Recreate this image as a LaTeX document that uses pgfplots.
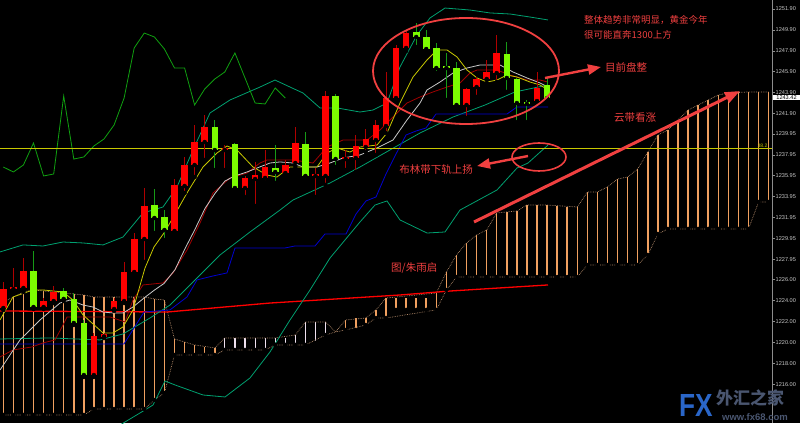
\documentclass[border=0pt]{standalone}
\usepackage{fontspec}
\setmainfont{Liberation Sans}
\newfontfamily\cjk{Noto Sans CJK SC}
\usepackage{pgfplots}
\usepackage{pgfplotstable}
\pgfplotsset{compat=1.18}
\usetikzlibrary{arrows.meta}
\definecolor{candlered}{HTML}{FF0000}
\definecolor{wickred}{HTML}{B00000}
\definecolor{candlegreen}{HTML}{7CFC00}
\definecolor{wickgreen}{HTML}{169A16}
\definecolor{ma5}{HTML}{C8C800}
\definecolor{ma10}{HTML}{C8C8C8}
\definecolor{tenkan}{HTML}{A00000}
\definecolor{kijun}{HTML}{0000D0}
\definecolor{chikou}{HTML}{10A010}
\definecolor{bb}{HTML}{00A070}
\definecolor{sandy}{HTML}{F0A060}
\definecolor{thistle}{HTML}{EEE0EE}
\definecolor{clouddot}{HTML}{B08868}
\definecolor{annot}{HTML}{F04040}
\definecolor{axgray}{HTML}{8C8C8C}
\definecolor{labelgray}{HTML}{C8C8C8}
\definecolor{fxblue}{HTML}{2A66C8}
\definecolor{fxgray}{HTML}{4A5670}

\pgfplotsset{
  ebar/.style n args={2}{forget plot, only marks, mark=none,
    error bars/.cd, y dir=plus, y explicit, error mark=none,
    error bar style={draw=#1, line width=#2, line cap=butt}},
}

% red (rising) candles: x open high low close
\pgfplotstableread{
x o h l c
3.3 1223.28 1225.77 1223.09 1225.10
13.4 1225.10 1227.11 1224.91 1225.30
23.4 1225.20 1228.07 1224.82 1226.83
43.6 1223.38 1224.24 1223.19 1223.95
53.7 1223.95 1225.39 1223.76 1224.82
93.9 1216.87 1220.89 1216.68 1220.60
104.0 1220.55 1220.89 1220.41 1220.75
114.1 1223.19 1224.24 1223.00 1223.95
124.1 1223.95 1227.69 1223.76 1226.73
134.2 1226.73 1230.46 1226.44 1229.89
144.3 1229.89 1234.77 1227.69 1233.05
174.5 1230.65 1235.63 1230.46 1235.06
184.6 1234.96 1237.74 1234.29 1236.97
194.6 1236.97 1240.80 1235.82 1239.17
204.7 1239.17 1241.75 1237.45 1240.61
224.8 1238.40 1238.88 1236.49 1238.60
245.0 1234.77 1235.92 1233.91 1235.73
255.1 1235.63 1237.26 1233.05 1236.01
265.1 1235.73 1238.40 1235.34 1236.78
285.3 1236.20 1237.45 1235.92 1236.97
295.3 1237.16 1240.61 1236.78 1239.07
315.5 1235.92 1236.68 1233.91 1236.11
325.5 1235.92 1244.05 1235.06 1243.57
345.7 1237.54 1238.40 1236.49 1237.74
355.8 1237.64 1239.84 1236.30 1238.79
365.8 1238.69 1240.41 1238.21 1239.46
375.9 1239.36 1241.28 1237.93 1240.80
386.0 1240.70 1245.87 1240.03 1243.38
396.0 1243.38 1248.45 1243.00 1248.17
406.1 1248.17 1249.89 1247.88 1249.60
466.5 1242.71 1244.34 1241.47 1244.24
476.6 1244.43 1245.39 1243.48 1245.20
486.7 1245.20 1247.02 1244.82 1245.87
496.7 1245.77 1249.41 1244.91 1247.69
537.0 1243.09 1245.87 1243.00 1244.34
}\upcandles

% green (falling) candles: x open high low close
\pgfplotstableread{
x o h l c
33.5 1226.83 1228.74 1223.19 1223.38
63.7 1224.91 1225.20 1223.95 1224.15
73.8 1224.15 1224.72 1221.66 1221.85
83.9 1221.85 1222.14 1216.68 1216.87
154.4 1233.14 1234.67 1230.46 1231.90
164.4 1231.99 1232.66 1229.79 1230.75
214.8 1240.61 1241.28 1236.49 1238.40
234.9 1238.98 1239.07 1234.58 1234.77
275.2 1236.68 1238.88 1235.25 1236.30
305.4 1238.98 1240.13 1235.82 1235.92
335.6 1243.57 1243.76 1236.78 1237.54
416.2 1249.70 1250.56 1248.26 1249.22
426.2 1249.22 1249.89 1247.69 1248.07
436.3 1248.17 1248.64 1245.77 1246.25
446.4 1246.45 1247.69 1243.19 1246.25
456.5 1246.25 1246.83 1242.52 1242.71
506.8 1247.59 1248.74 1243.96 1245.30
516.9 1245.20 1245.30 1241.08 1242.90
526.9 1243.00 1243.19 1241.08 1242.81
547.1 1244.63 1245.30 1243.00 1243.38
}\downcandles

% Ichimoku cloud, bars drawn sandy brown: x bottom top
\pgfplotstableread{
x b t
3.3 1213.05 1223.86
13.4 1213.05 1224.34
23.4 1213.05 1224.82
33.5 1213.05 1225.01
43.6 1213.05 1224.91
53.7 1213.05 1224.82
63.7 1213.05 1224.72
73.8 1213.05 1224.63
83.9 1213.05 1224.53
93.9 1213.62 1224.34
104.0 1213.62 1224.34
114.1 1213.62 1224.34
124.1 1213.62 1224.34
134.2 1213.62 1224.34
144.3 1213.62 1224.34
154.4 1214.48 1224.15
164.4 1215.15 1224.05
174.5 1218.79 1220.32
184.6 1218.79 1220.03
194.6 1218.79 1219.75
204.7 1218.79 1219.55
214.8 1218.79 1219.46
345.7 1221.18 1222.14
355.8 1221.18 1222.33
365.8 1221.66 1222.33
375.9 1222.33 1223.10
386.0 1222.33 1224.24
396.0 1223.10 1224.24
406.1 1223.10 1224.24
416.2 1223.10 1224.24
426.2 1223.10 1224.24
436.3 1223.10 1224.72
446.4 1225.01 1226.73
456.5 1226.25 1228.36
466.5 1226.25 1229.51
476.6 1226.25 1230.27
486.7 1226.25 1230.75
496.7 1226.25 1232.38
506.8 1226.25 1232.47
516.9 1226.25 1232.57
526.9 1226.25 1233.14
537.0 1226.25 1233.14
547.1 1226.25 1233.14
557.2 1226.25 1233.05
567.2 1226.25 1232.95
577.3 1226.25 1232.95
587.4 1227.40 1234.39
597.4 1227.40 1234.39
607.5 1227.40 1234.87
617.6 1227.40 1235.63
627.6 1227.40 1235.82
637.7 1227.40 1236.59
647.8 1228.36 1238.21
657.9 1230.37 1239.84
667.9 1230.85 1240.32
678.0 1230.85 1241.28
688.1 1230.85 1242.23
698.1 1230.85 1242.71
708.2 1230.85 1243.19
718.3 1230.85 1243.67
728.3 1230.85 1243.86
738.4 1230.85 1243.96
748.5 1230.85 1243.96
758.6 1233.43 1243.96
768.6 1233.43 1243.96
}\cloudsandy

% cloud bars drawn light (thistle)
\pgfplotstableread{
x b t
224.8 1219.27 1220.42
234.9 1219.27 1220.42
245.0 1219.27 1220.42
255.1 1219.27 1220.42
265.1 1219.27 1220.42
275.2 1219.75 1220.42
285.3 1219.75 1220.42
295.3 1219.75 1220.70
305.4 1219.75 1221.95
315.5 1219.94 1221.95
325.5 1220.70 1221.95
}\cloudlight

% cloud edges (dotted)
\pgfplotstableread{
x b t
3.3 1213.05 1223.86
13.4 1213.05 1224.34
23.4 1213.05 1224.82
33.5 1213.05 1225.01
43.6 1213.05 1224.91
83.9 1213.05 1224.53
93.9 1213.62 1224.34
144.3 1213.62 1224.34
154.4 1214.48 1224.15
164.4 1215.15 1224.05
174.5 1218.79 1220.32
194.6 1218.79 1219.75
214.8 1218.79 1219.46
224.8 1219.27 1220.42
265.1 1219.27 1220.42
275.2 1219.75 1220.42
295.3 1219.75 1220.70
305.4 1219.75 1221.95
325.5 1220.70 1221.95
335.6 1221.00 1221.00
345.7 1221.18 1222.14
365.8 1221.66 1222.33
375.9 1222.33 1223.10
386.0 1222.33 1224.24
436.3 1223.10 1224.72
446.4 1225.01 1226.73
456.5 1226.25 1228.36
466.5 1226.25 1229.51
476.6 1226.25 1230.27
486.7 1226.25 1230.75
496.7 1226.25 1232.38
516.9 1226.25 1232.57
526.9 1226.25 1233.14
547.1 1226.25 1233.14
577.3 1226.25 1232.95
587.4 1227.40 1234.39
597.4 1227.40 1234.39
607.5 1227.40 1234.87
617.6 1227.40 1235.63
627.6 1227.40 1235.82
637.7 1227.40 1236.59
647.8 1228.36 1238.21
657.9 1230.37 1239.84
667.9 1230.85 1240.32
678.0 1230.85 1241.28
688.1 1230.85 1242.23
698.1 1230.85 1242.71
708.2 1230.85 1243.19
718.3 1230.85 1243.67
728.3 1230.85 1243.86
748.5 1230.85 1243.96
758.6 1233.43 1243.96
768.6 1233.43 1243.96
}\cloudedge

\begin{document}
\begin{tikzpicture}[x=1pt,y=1pt]
\fill[black] (0,0) rectangle (800,423);
\begin{axis}[
  at={(0,0)}, anchor=south west,
  scale only axis, width=772pt, height=423pt,
  xmin=0, xmax=772, ymin=1212.28, ymax=1252.76,
  axis x line=none, axis y line*=right,
  axis line style={draw=axgray, line width=0.7pt},
  tick align=outside, major tick length=2.5pt,
  ytick style={draw=axgray, line width=0.5pt},
  ytick={1216,1218,1220,1222,1224,1226,1227.95,1229.95,1231.95,1233.95,1235.95,1237.95,1239.95,1241.9,1243.9,1245.9,1247.9,1249.9,1251.9},
  yticklabels={1216.00,1218.00,1220.00,1222.00,1224.00,1226.00,1227.95,1229.95,1231.95,1233.95,1235.95,1237.95,1239.95,1241.90,1243.90,1245.90,1247.90,1249.90,1251.90},
  yticklabel style={font=\fontsize{5.6}{6}\selectfont, text=labelgray, inner sep=1pt},
  clip=true,
]
% cloud
\addplot[ebar={sandy}{1.5pt}] table[x=x, y=b, y error plus expr=\thisrow{t}-\thisrow{b}] {\cloudsandy};
\addplot[ebar={thistle}{1.2pt}] table[x=x, y=b, y error plus expr=\thisrow{t}-\thisrow{b}] {\cloudlight};
\addplot[forget plot, clouddot, densely dotted, line width=0.7pt] table[x=x, y=t] {\cloudedge};
\addplot[forget plot, clouddot, densely dotted, line width=0.7pt] table[x=x, y=b] {\cloudedge};

% long red moving average
\addplot[forget plot, candlered, line width=1.3pt] coordinates {(0,1223.00) (167,1222.90) (270,1223.76) (400,1224.53) (450,1224.91) (548,1225.49)};

% Bollinger bands
\addplot[forget plot, bb, line width=0.8pt] coordinates {(0,1228.65) (23,1229.32) (43,1229.22) (63,1229.60) (83,1229.51) (103,1229.32) (123,1230.08) (143,1232.38) (163,1232.95) (177,1234.87) (193,1238.41) (210,1241.95) (230,1243.19) (260,1244.43) (275,1245.10) (290,1244.43) (303,1243.86) (320,1242.43) (337,1242.43) (360,1242.04) (373,1242.23) (387,1242.90) (400,1246.35) (417,1249.41) (430,1251.04) (445,1251.99) (470,1251.80) (490,1251.52) (510,1251.42) (530,1251.13) (548,1250.85)};
\addplot[forget plot, bb, line width=0.8pt] coordinates {(0,1220.32) (50,1220.42) (100,1220.23) (123,1220.80) (150,1222.33) (170,1223.57) (200,1226.44) (220,1228.36) (250,1230.56) (280,1232.66) (293,1233.62) (330,1235.25) (360,1236.78) (390,1238.41) (420,1240.03) (453,1241.56) (485,1242.71) (515,1243.96) (548,1244.63)};
\addplot[forget plot, bb, line width=0.8pt] coordinates {(120,1212.09) (140,1213.24) (153,1214.00) (165,1216.30) (175,1215.92) (203,1214.96) (225,1214.77) (250,1216.59) (270,1219.08) (290,1222.14) (310,1225.01) (330,1228.07) (360,1231.52) (375,1233.14) (387,1233.53) (400,1231.71) (427,1230.46) (445,1230.56) (460,1232.66) (497,1234.58) (517,1236.68) (528,1237.16) (548,1238.88)};

% Chikou span
\addplot[forget plot, chikou, line width=0.8pt] coordinates {(3.3,1236.78) (13.4,1236.30) (23.4,1236.97) (33.5,1239.07) (43.6,1235.92) (53.7,1236.11) (63.7,1243.57) (73.8,1237.54) (83.9,1237.74) (93.9,1238.79) (104.0,1239.46) (114.1,1240.80) (124.1,1243.38) (134.2,1248.17) (144.3,1249.60) (154.4,1249.22) (164.4,1248.07) (174.5,1246.25) (184.6,1246.25) (194.6,1242.71) (204.7,1244.24) (214.8,1245.20) (224.8,1245.87) (234.9,1247.69) (245.0,1245.30) (255.1,1242.90) (265.1,1242.81) (275.2,1244.34) (285.3,1243.38)};

% Kijun-sen
\addplot[forget plot, kijun, line width=0.8pt] coordinates {(0,1219.84) (124,1219.84) (134,1221.37) (144,1222.90) (170,1223.10) (187,1224.34) (197,1225.97) (213,1226.35) (227,1226.64) (235,1229.03) (285,1229.03) (295,1229.22) (315,1229.22) (325,1230.37) (346,1230.37) (356,1232.28) (366,1233.53) (376,1233.91) (386,1236.11) (396,1238.02) (406,1239.84) (416,1240.22) (426,1240.51) (436,1241.85) (507,1241.85) (517,1242.52) (548,1242.52)};

% Tenkan-sen
\addplot[forget plot, tenkan, line width=0.8pt] coordinates {(0,1218.60) (13,1219.27) (32,1219.56) (43,1219.94) (55,1220.23) (62,1221.47) (67,1222.43) (83,1222.43) (110,1222.43) (125,1221.95) (133,1224.05) (143,1225.49) (163,1225.68) (173,1226.64) (187,1228.84) (200,1231.42) (213,1234.29) (230,1235.73) (247,1236.20) (260,1237.16) (267,1237.45) (293,1237.45) (313,1237.16) (327,1238.69) (343,1239.36) (367,1239.36) (380,1240.32) (393,1241.56) (407,1242.90) (420,1243.48) (433,1243.96) (447,1244.43) (460,1244.82) (470,1245.77) (477,1246.06) (497,1246.06) (510,1245.58) (527,1245.10) (540,1245.10) (548,1244.91)};

% 10 MA
\addplot[forget plot, ma10, line width=0.8pt] coordinates {(0,1217.35) (20,1220.23) (40,1222.14) (60,1223.76) (70,1224.05) (83,1223.57) (93,1223.38) (103,1222.90) (113,1222.81) (123,1222.81) (133,1223.38) (144,1224.24) (154,1224.97) (164,1225.63) (175,1226.95) (185,1228.96) (195,1230.82) (205,1232.81) (215,1234.25) (225,1235.44) (235,1235.93) (247,1236.30) (257,1236.68) (270,1237.16) (280,1237.26) (293,1237.16) (303,1236.78) (317,1236.78) (330,1237.16) (343,1237.64) (360,1237.93) (377,1238.60) (393,1239.36) (407,1241.28) (420,1242.90) (427,1244.15) (440,1244.91) (453,1245.77) (467,1246.25) (480,1246.54) (500,1246.54) (513,1245.87) (527,1245.30) (540,1244.82) (548,1244.43)};

% 5 MA
\addplot[forget plot, ma5, line width=0.8pt] coordinates {(0,1222.14) (13,1224.34) (33,1225.01) (43,1225.01) (63,1224.82) (73,1224.05) (83,1222.62) (103,1220.90) (113,1220.90) (123,1221.47) (133,1223.10) (145,1227.11) (154,1229.13) (164,1230.46) (174,1232.09) (187,1234.29) (203,1236.78) (217,1238.12) (227,1238.79) (237,1238.40) (253,1236.78) (267,1236.01) (277,1235.82) (290,1236.78) (307,1236.78) (317,1236.78) (327,1238.12) (337,1238.60) (350,1238.21) (360,1238.69) (377,1238.88) (387,1240.03) (400,1242.90) (413,1245.39) (427,1247.02) (437,1247.98) (447,1247.98) (457,1247.31) (467,1246.06) (477,1245.30) (487,1244.91) (497,1245.10) (507,1245.58) (517,1245.39) (530,1244.91) (540,1244.63) (548,1244.15)};

% 38.2 retracement line
\addplot[forget plot, ma5, line width=0.8pt] coordinates {(0,1238.60) (772,1238.60)};

% candles: wicks then bodies
\addplot[ebar={wickred}{1pt}] table[x=x, y=l, y error plus expr=\thisrow{h}-\thisrow{l}] {\upcandles};
\addplot[ebar={wickgreen}{1pt}] table[x=x, y=l, y error plus expr=\thisrow{h}-\thisrow{l}] {\downcandles};
\addplot[ebar={candlered}{6.6pt}] table[x=x, y=o, y error plus expr=\thisrow{c}-\thisrow{o}] {\upcandles};
\addplot[ebar={candlegreen}{6.6pt}] table[x=x, y=c, y error plus expr=\thisrow{o}-\thisrow{c}] {\downcandles};
\end{axis}

% annotations (picture coordinates, 1pt = 1px of the reference, origin bottom left)
\draw[annot, line width=1.8pt] (466,352) ellipse [x radius=93, y radius=53];
\draw[annot, line width=1.6pt] (539,266) ellipse [x radius=27, y radius=14];
\draw[annot, line width=2.4pt, -{Triangle[length=13pt,width=10pt]}] (545,345) -- (601,356);
\draw[annot, line width=2.4pt, -{Triangle[length=13pt,width=10pt]}] (528,267) -- (477,257);
\draw[annot, line width=3pt, -{Triangle[length=15pt,width=11pt]}] (474,201) -- (740,332);
\node[annot, anchor=west, inner sep=0pt, font=\cjk\fontsize{10.5}{12}\selectfont] at (605,356) {目前盘整};
\node[annot, anchor=east, inner sep=0pt, font=\cjk\fontsize{10.5}{12}\selectfont] at (473,253) {布林带下轨上扬};
\node[annot, anchor=north west, inner sep=0pt, align=left, font=\cjk\fontsize{9.5}{15}\selectfont] at (584,408) {整体趋势非常明显，黄金今年\\很可能直奔1300上方};
\node[annot, anchor=west, inner sep=0pt, font=\cjk\fontsize{10.5}{12}\selectfont] at (614,305) {云带看涨};
\node[annot, anchor=west, inner sep=0pt, font=\cjk\fontsize{10.5}{12}\selectfont] at (391,155) {图/朱雨启};
\node[ma5, anchor=south east, inner sep=0.5pt, font=\fontsize{5}{5}\selectfont] at (768,275) {38.2};
\node[fill=white, text=black, inner sep=0.8pt, minimum width=27pt, font=\fontsize{5.6}{6}\selectfont] at (786.5,325.5) {1243.42};
% logo
\node[anchor=base west, inner sep=0pt, text=fxblue, font=\bfseries\fontsize{32}{32}\selectfont, xscale=0.82] at (679,7) {FX};
\node[anchor=base west, inner sep=0pt, text=fxgray, font=\cjk\bfseries\fontsize{17}{17}\selectfont] at (716,19) {外汇之家};
\node[anchor=base west, inner sep=0pt, text=fxgray, font=\bfseries\fontsize{9.5}{9.5}\selectfont] at (722,2.5) {www.fx68.com};
\pgfresetboundingbox
\useasboundingbox (0,0) rectangle (800,423);
\end{tikzpicture}
\end{document}
